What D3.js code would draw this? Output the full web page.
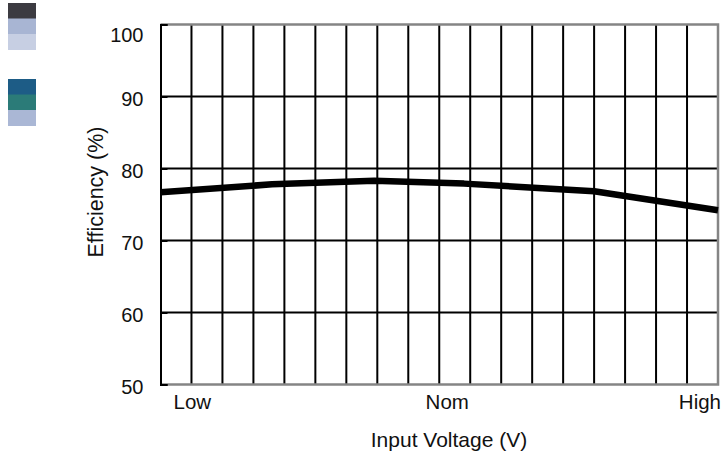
<!DOCTYPE html>
<html>
<head>
<meta charset="utf-8">
<script src="https://cdn.jsdelivr.net/npm/d3@7"></script>
<style>
  body { margin: 0; background: #fff; }
  text { font-family: "Liberation Sans", Arial, sans-serif; fill: #111; }
</style>
</head>
<body>
<div id="chart"></div>
<script>
// efficiency curve, x in grid columns (0 = Low, 9 = Nom, 18 = High)
const voltagePos = [0, 3.6, 6.9, 9.8, 12.6, 14, 18];
const efficiency = [76.7, 77.8, 78.3, 77.9, 77.2, 76.85, 74.2];

const yTicks = [50, 60, 70, 80, 90, 100];
const xLabels = ["Low", "Nom", "High"];
const xLabelPos = [0, 9, 18];
const gridCols = d3.range(0, 19);

// colour swatches in the top-left corner (no text)
const swatchGroup1 = ["#3c3b41", "#a8b5d3", "#c7cfe3"];
const swatchGroup2 = ["#1d5c86", "#2b7b78", "#aab7d5"];

const W = 722, H = 457;
const margin = {top: 24.5, right: 4, bottom: 72.5, left: 160.5};
const width = W - margin.left - margin.right;
const height = H - margin.top - margin.bottom;

const svg = d3.select("#chart").append("svg")
    .attr("width", W)
    .attr("height", H);

// swatches
const sw = svg.append("g");
sw.selectAll(".s1").data(swatchGroup1).enter().append("rect")
  .attr("x", 8).attr("y", (d, i) => 3 + i * 15.5)
  .attr("width", 28).attr("height", 16)
  .attr("fill", d => d);
sw.selectAll(".s2").data(swatchGroup2).enter().append("rect")
  .attr("x", 8).attr("y", (d, i) => 79 + i * 15.5)
  .attr("width", 28).attr("height", 16)
  .attr("fill", d => d);

const g = svg.append("g")
    .attr("transform", `translate(${margin.left},${margin.top})`);

const x = d3.scaleLinear().domain([0, 18]).range([0, width]);
const y = d3.scaleLinear().domain([50, 100]).range([height, 0]);

// grid
g.selectAll(".vgrid").data(gridCols.slice(1, -1)).enter().append("line")
  .attr("x1", d => x(d)).attr("x2", d => x(d))
  .attr("y1", 0).attr("y2", height)
  .attr("stroke", "#000").attr("stroke-width", 2);
g.selectAll(".hgrid").data(yTicks.slice(1, -1)).enter().append("line")
  .attr("x1", 0).attr("x2", width)
  .attr("y1", d => y(d)).attr("y2", d => y(d))
  .attr("stroke", "#000").attr("stroke-width", 2);

// frame: gray on top/right/bottom
g.append("path")
  .attr("d", `M0,0H${width}V${height}H0`)
  .attr("fill", "none")
  .attr("stroke", "#858585").attr("stroke-width", 2.5);

// left axis
const yAxis = g.append("g")
  .call(d3.axisLeft(y).tickValues(yTicks).tickSize(-7).tickPadding(17));
yAxis.select(".domain").attr("stroke", "#000").attr("stroke-width", 2);
yAxis.selectAll(".tick line").attr("stroke", "#000").attr("stroke-width", 2);
yAxis.selectAll(".tick text")
  .attr("font-size", 20)
  .attr("font-family", "'Liberation Sans', Arial, sans-serif")
  .attr("fill", "#111")
  .attr("dy", d => d === 100 ? "0.85em" : "0.45em");

// x labels
g.selectAll(".xl").data(xLabels).enter().append("text")
  .attr("x", (d, i) => x(xLabelPos[i]) + (i === 0 ? 13 : i === 1 ? 8 : 3))
  .attr("y", height + 24.5)
  .attr("text-anchor", (d, i) => i === 0 ? "start" : i === 1 ? "middle" : "end")
  .attr("font-size", 20.5)
  .text(d => d);

// axis titles
svg.append("text")
  .attr("x", 449).attr("y", 447)
  .attr("text-anchor", "middle")
  .attr("font-size", 21)
  .text("Input Voltage (V)");
svg.append("text")
  .attr("transform", "translate(102.5,192) rotate(-90)")
  .attr("text-anchor", "middle")
  .attr("font-size", 21.5)
  .text("Efficiency (%)");

// efficiency line
const pts = voltagePos.map((v, i) => [v, efficiency[i]]);
g.append("path")
  .datum(pts)
  .attr("fill", "none")
  .attr("stroke", "#000")
  .attr("stroke-width", 6.5)
  .attr("stroke-linejoin", "round")
  .attr("d", d3.line().x(d => x(d[0])).y(d => y(d[1])));
</script>
</body>
</html>
